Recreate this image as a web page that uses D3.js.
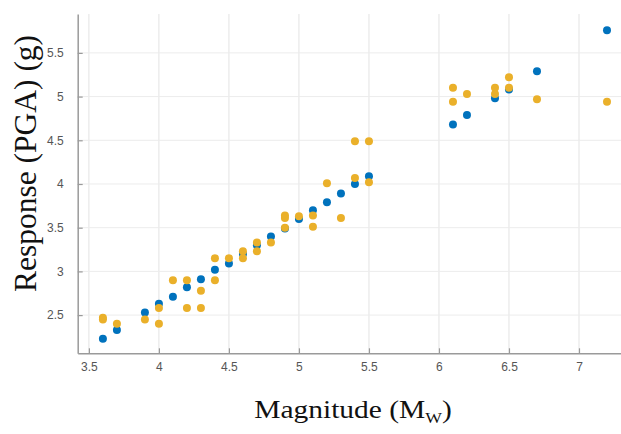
<!DOCTYPE html>
<html>
<head>
<meta charset="utf-8">
<script src="https://cdn.jsdelivr.net/npm/d3@7"></script>
<style>
  html, body { margin: 0; padding: 0; background: #fff; }
  svg { display: block; }
</style>
</head>
<body>
<div id="chart"></div>
<script>
// magnitude / response values
const magBlue = [3.6, 3.7, 3.9, 4.0, 4.1, 4.2, 4.3, 4.4, 4.5, 4.6, 4.7, 4.8, 4.9,
  5.0, 5.1, 5.2, 5.3, 5.4, 5.5, 6.1, 6.2, 6.4, 6.5, 6.7, 7.2];
const pgaBlue = [2.23, 2.33, 2.53, 2.63, 2.71, 2.82, 2.91, 3.02, 3.09, 3.20, 3.30, 3.40, 3.49,
  3.60, 3.70, 3.79, 3.89, 4.00, 4.09, 4.68, 4.79, 4.98, 5.08, 5.29, 5.76];

const magYellow = [3.6, 3.6, 3.7, 3.9, 4.0, 4.0, 4.1, 4.2, 4.2, 4.3, 4.3, 4.4, 4.4, 4.5,
  4.6, 4.6, 4.7, 4.7, 4.8, 4.9, 4.9, 4.9, 5.0, 5.1, 5.1, 5.2, 5.3, 5.4, 5.4, 5.5, 5.5,
  6.1, 6.1, 6.2, 6.4, 6.4, 6.5, 6.5, 6.7, 7.2];
const pgaYellow = [2.47, 2.45, 2.40, 2.45, 2.58, 2.40, 2.90, 2.90, 2.58, 2.78, 2.58, 3.15, 2.90, 3.15,
  3.23, 3.15, 3.33, 3.23, 3.33, 3.64, 3.61, 3.50, 3.63, 3.64, 3.51, 4.01, 3.61, 4.07, 4.49, 4.49, 4.02,
  5.10, 4.94, 5.03, 5.10, 5.03, 5.22, 5.10, 4.97, 4.94];

const xTicks = [3.5, 4, 4.5, 5, 5.5, 6, 6.5, 7];
const yTicks = [2.5, 3, 3.5, 4, 4.5, 5, 5.5];

const width = 621, height = 434;
const plot = { left: 77.7, right: 621, top: 14, bottom: 353.3 };

const xScale = d3.scaleLinear().domain([3.42, 7.30]).range([plot.left, plot.right]);
const yScale = d3.scaleLinear().domain([2.063, 5.945]).range([plot.bottom, plot.top]);

const svg = d3.select("#chart").append("svg")
  .attr("width", width)
  .attr("height", height);

// grid
const grid = svg.append("g").attr("class", "grid");
grid.selectAll("line.gx").data(xTicks).join("line")
  .attr("class", "gx")
  .attr("x1", d => xScale(d)).attr("x2", d => xScale(d))
  .attr("y1", plot.top).attr("y2", plot.bottom)
  .attr("stroke", "#e3e3e3").attr("stroke-width", 1);
grid.selectAll("line.gy").data(yTicks).join("line")
  .attr("class", "gy")
  .attr("x1", plot.left).attr("x2", plot.right)
  .attr("y1", d => yScale(d)).attr("y2", d => yScale(d))
  .attr("stroke", "#ececec").attr("stroke-width", 1);

// axes, ticks pointing inward
const xAxis = d3.axisBottom(xScale)
  .tickValues(xTicks)
  .tickSizeInner(-5)
  .tickSizeOuter(0)
  .tickPadding(9)
  .tickFormat(d3.format("~g"));

const yAxis = d3.axisLeft(yScale)
  .tickValues(yTicks)
  .tickSizeInner(-5)
  .tickSizeOuter(0)
  .tickPadding(14)
  .tickFormat(d3.format("~g"));

const styleAxis = g => {
  g.select(".domain").attr("stroke", "#9a9a9a").attr("stroke-width", 1.5);
  g.selectAll(".tick line").attr("stroke", "#9a9a9a").attr("stroke-width", 1.2);
  g.selectAll(".tick text")
    .attr("fill", "#555")
    .style("font-family", "'Liberation Sans', Arial, sans-serif")
    .style("font-size", "12px");
};

svg.append("g")
  .attr("transform", `translate(0,${plot.bottom})`)
  .call(xAxis)
  .call(styleAxis);

svg.append("g")
  .attr("transform", `translate(${plot.left},0)`)
  .call(yAxis)
  .call(styleAxis);

// points: blue first, yellow on top
const blue = magBlue.map((m, i) => ({ x: m, y: pgaBlue[i] }));
const yellow = magYellow.map((m, i) => ({ x: m, y: pgaYellow[i] }));

svg.append("g").selectAll("circle").data(blue).join("circle")
  .attr("cx", d => xScale(d.x))
  .attr("cy", d => yScale(d.y))
  .attr("r", 4)
  .attr("fill", "#0072BD");

svg.append("g").selectAll("circle").data(yellow).join("circle")
  .attr("cx", d => xScale(d.x))
  .attr("cy", d => yScale(d.y))
  .attr("r", 4)
  .attr("fill", "#EAB02A");

// axis titles
const xLabel = svg.append("text")
  .attr("transform", "translate(353,418) scale(1.18,1)")
  .attr("text-anchor", "middle")
  .style("font-family", "'Liberation Serif', 'Times New Roman', serif")
  .style("font-size", "25px")
  .attr("fill", "#111");
xLabel.append("tspan").text("Magnitude (M");
xLabel.append("tspan").attr("dy", 5).style("font-size", "15px").text("W");
xLabel.append("tspan").attr("dy", -5).text(")");

svg.append("text")
  .attr("transform", "translate(36,163.5) rotate(-90)")
  .attr("text-anchor", "middle")
  .style("font-family", "'Liberation Serif', 'Times New Roman', serif")
  .style("font-size", "31.5px")
  .attr("fill", "#111")
  .text("Response (PGA) (g)");
</script>
</body>
</html>
